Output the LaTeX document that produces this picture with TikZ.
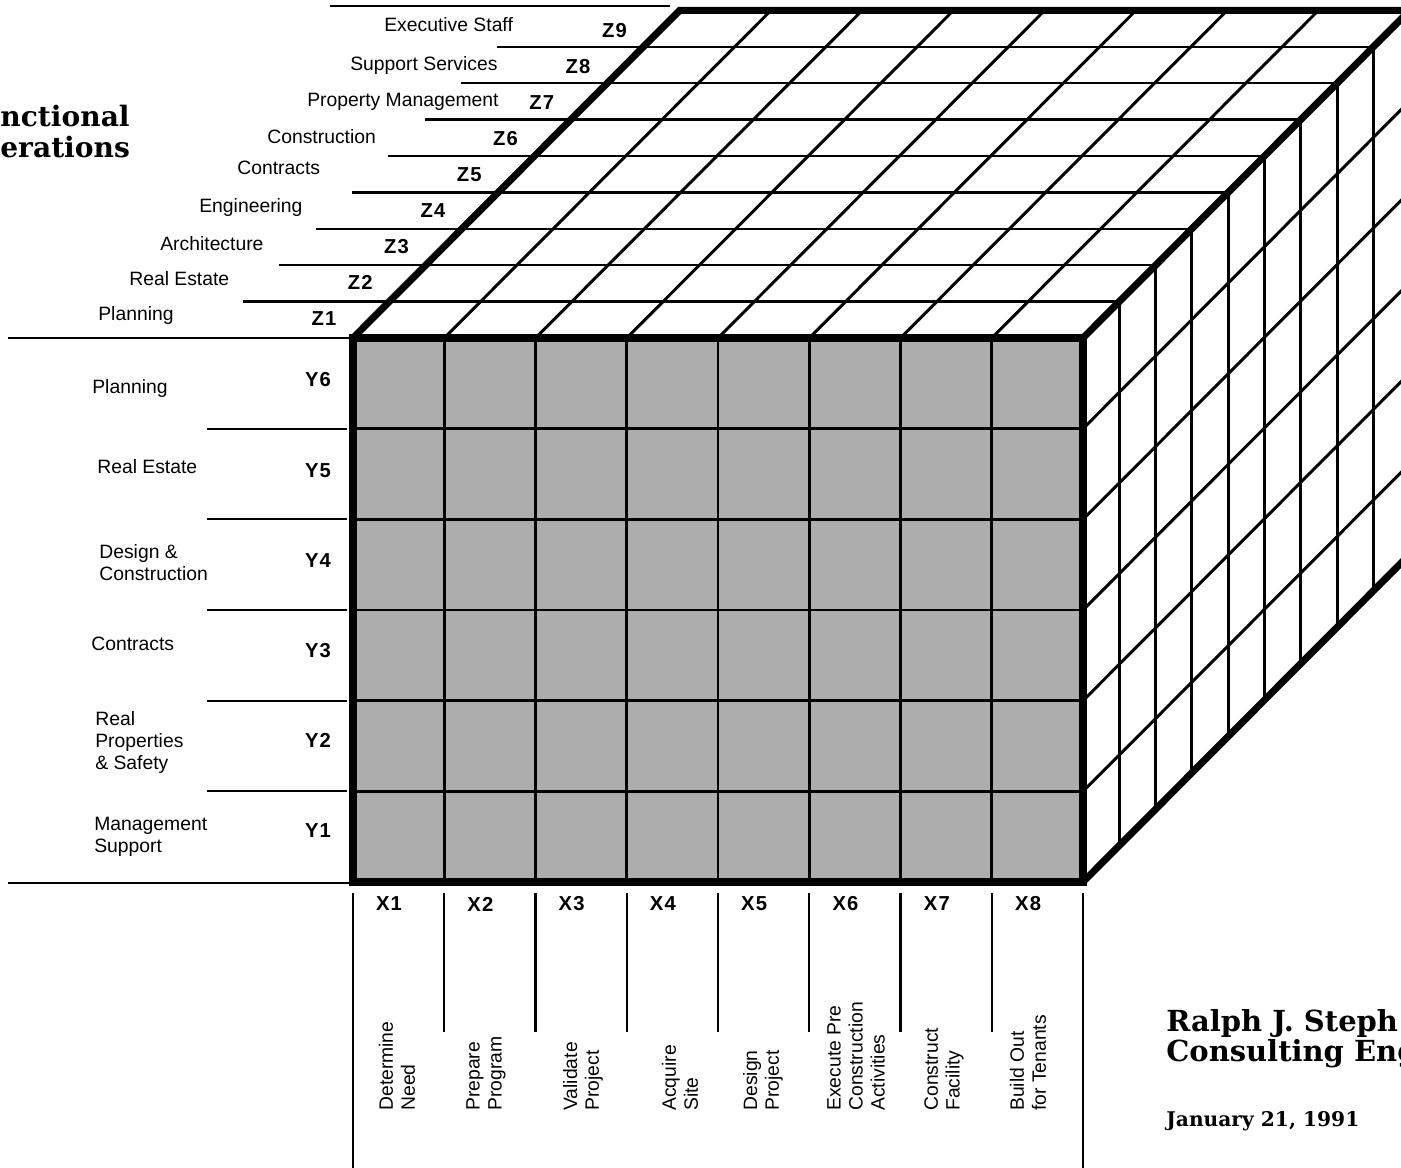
\documentclass[tikz,border=0pt]{standalone}
\usepackage{fontspec}
\setsansfont{Liberation Sans}
\newfontfamily\codefont{Liberation Sans}[LetterSpace=6]
\newfontfamily\slabfont{DejaVu Serif}
\usetikzlibrary{positioning}
\definecolor{stipple}{HTML}{ADADAD}

\begin{document}
\begin{tikzpicture}[
  x=0.02cm, y=-0.02cm,
  heavy/.style={line width=4pt, line cap=round},
  gridline/.style={line width=1.7pt},
  rule/.style={line width=1.3pt},
  lab/.style={font=\sffamily\fontsize{11}{12.5}\selectfont, inner sep=0pt, align=left},
  code/.style={font=\codefont\bfseries\fontsize{11.5}{12}\selectfont, inner sep=0pt},
  vlab/.style={lab, rotate=90, anchor=west},
  titletext/.style={font=\slabfont\bfseries\fontsize{16}{18}\selectfont, inner sep=0pt, anchor=base west},
  firm/.style={font=\slabfont\bfseries\fontsize{16.5}{14.3}\selectfont, inner sep=0pt, align=left, anchor=west},
  datetext/.style={font=\slabfont\bfseries\fontsize{11.5}{12}\selectfont, inner sep=0pt, anchor=base west}
]
\useasboundingbox (0,0) rectangle (1401,1168);
\clip (0,0) rectangle (1401,1168);

% --- front face ---------------------------------------------------------------
\fill[stipple] (353,338) rectangle (1083,882);
\foreach \i in {1,...,7}
  \draw[gridline] ({353+91.25*\i},338) -- ++(0,544);
\foreach \j in {1,...,5}
  \draw[gridline] (353,{338+90.67*\j}) -- ++(730,0);

% --- top face (the Z rules run on into it) ------------------------------------
\foreach \k in {1,...,8}
  \draw[rule] ({206.7+36.3*\k},{338-36.4*\k}) -- ({1083+36.3*\k},{338-36.4*\k});
\foreach \i in {1,...,7}
  \draw[gridline] ({353+91.25*\i},338) -- ++(326.7,-327.6);

% --- right face ---------------------------------------------------------------
\foreach \k in {1,...,8}
  \draw[gridline] ({1083+36.3*\k},{338-36.4*\k}) -- ++(0,544);
\foreach \j in {1,...,5}
  \draw[gridline] (1083,{338+90.67*\j}) -- ++(326.7,-327.6);

% --- heavy edges ----------------------------------------------------------------
\draw[heavy, line cap=butt] (353,338) rectangle (1083,882);
\draw[heavy] (353,338) -- ++(326.7,-327.6) -- ++(740,0);
\draw[heavy] (1083,338) -- ++(326.7,-327.6);
\draw[heavy] (1083,882) -- ++(326.7,-327.6);

% --- rules of the side tables ---------------------------------------------------
\draw[rule] (330,6) -- (670,6);
\draw[rule] (8,338) -- (353,338);
\draw[rule] (8,883) -- (353,883);
\foreach \j in {1,...,5}
  \draw[rule] (207,{338+90.67*\j}) -- (347,{338+90.67*\j});
\draw[rule] (353,893) -- (353,1168);
\draw[rule] (1083,893) -- (1083,1168);
\foreach \i in {1,...,7}
  \draw[rule] ({353+91.25*\i},893) -- ++(0,139);

% --- Z axis -----------------------------------------------------------------------
\foreach \k in {1,...,9}
  \node[code] (z\k) at ({287.7+36.3*\k},{355.1-36.1*\k}) {Z\k};
\node[lab, anchor=base west] (zn1) at (98,321) {Planning};
\node[lab, anchor=base west] (zn2) at (129,286) {Real Estate};
\node[lab, anchor=base west] (zn3) at (160,251) {Architecture};
\node[lab, anchor=base west] (zn4) at (199,213) {Engineering};
\node[lab, anchor=base west] (zn5) at (237,175) {Contracts};
\node[lab, anchor=base west] (zn6) at (267,144) {Construction};
\node[lab, anchor=base west] (zn7) at (307,107) {Property Management};
\node[lab, anchor=base west] (zn8) at (350,71) {Support Services};
\node[lab, anchor=base west] (zn9) at (384,32) {Executive Staff};

% --- Y axis -----------------------------------------------------------------------
\foreach \k in {1,...,6}
  \node[code] (y\k) at (318,{831-90.2*(\k-1)}) {Y\k};
\node[lab, anchor=base west] (yn6) at (92,394) {Planning};
\node[lab, anchor=base west] (yn5) at (97,474) {Real Estate};
\node[lab, anchor=north west] (yn4) at (99,544) {Design \&\\Construction};
\node[lab, anchor=base west] (yn3) at (91,651) {Contracts};
\node[lab, anchor=north west] (yn2) at (95,711) {Real\\Properties\\\& Safety};
\node[lab, anchor=north west] (yn1) at (94,817) {Management\\Support};

% --- X axis -----------------------------------------------------------------------
\foreach \i in {1,...,8}
  \node[code] (x\i) at ({389+91.3*(\i-1)},904) {X\i};
\node[vlab] (xn1) at (397,1111) {Determine\\Need};
\node[vlab] (xn2) at (486,1111) {Prepare\\Program};
\node[vlab] (xn3) at (583,1111) {Validate\\Project};
\node[vlab] (xn4) at (680,1111) {Acquire\\Site};
\node[vlab] (xn5) at (763,1111) {Design\\Project};
\node[vlab] (xn6) at (856,1111) {Execute Pre\\Construction\\Activities};
\node[vlab] (xn7) at (944,1111) {Construct\\Facility};
\node[vlab] (xn8) at (1028,1111) {Build Out\\for Tenants};

% --- titles -------------------------------------------------------------------------
\node[titletext] (hd1) at (0,127) {nctional};
\node[titletext] (hd2) at (0,158) {erations};
\node[firm] (firm) at (1166,1039) {Ralph J. Steph\\Consulting Eng};
\node[datetext] (date) at (1166,1127) {January 21, 1991};

\end{tikzpicture}
\end{document}
